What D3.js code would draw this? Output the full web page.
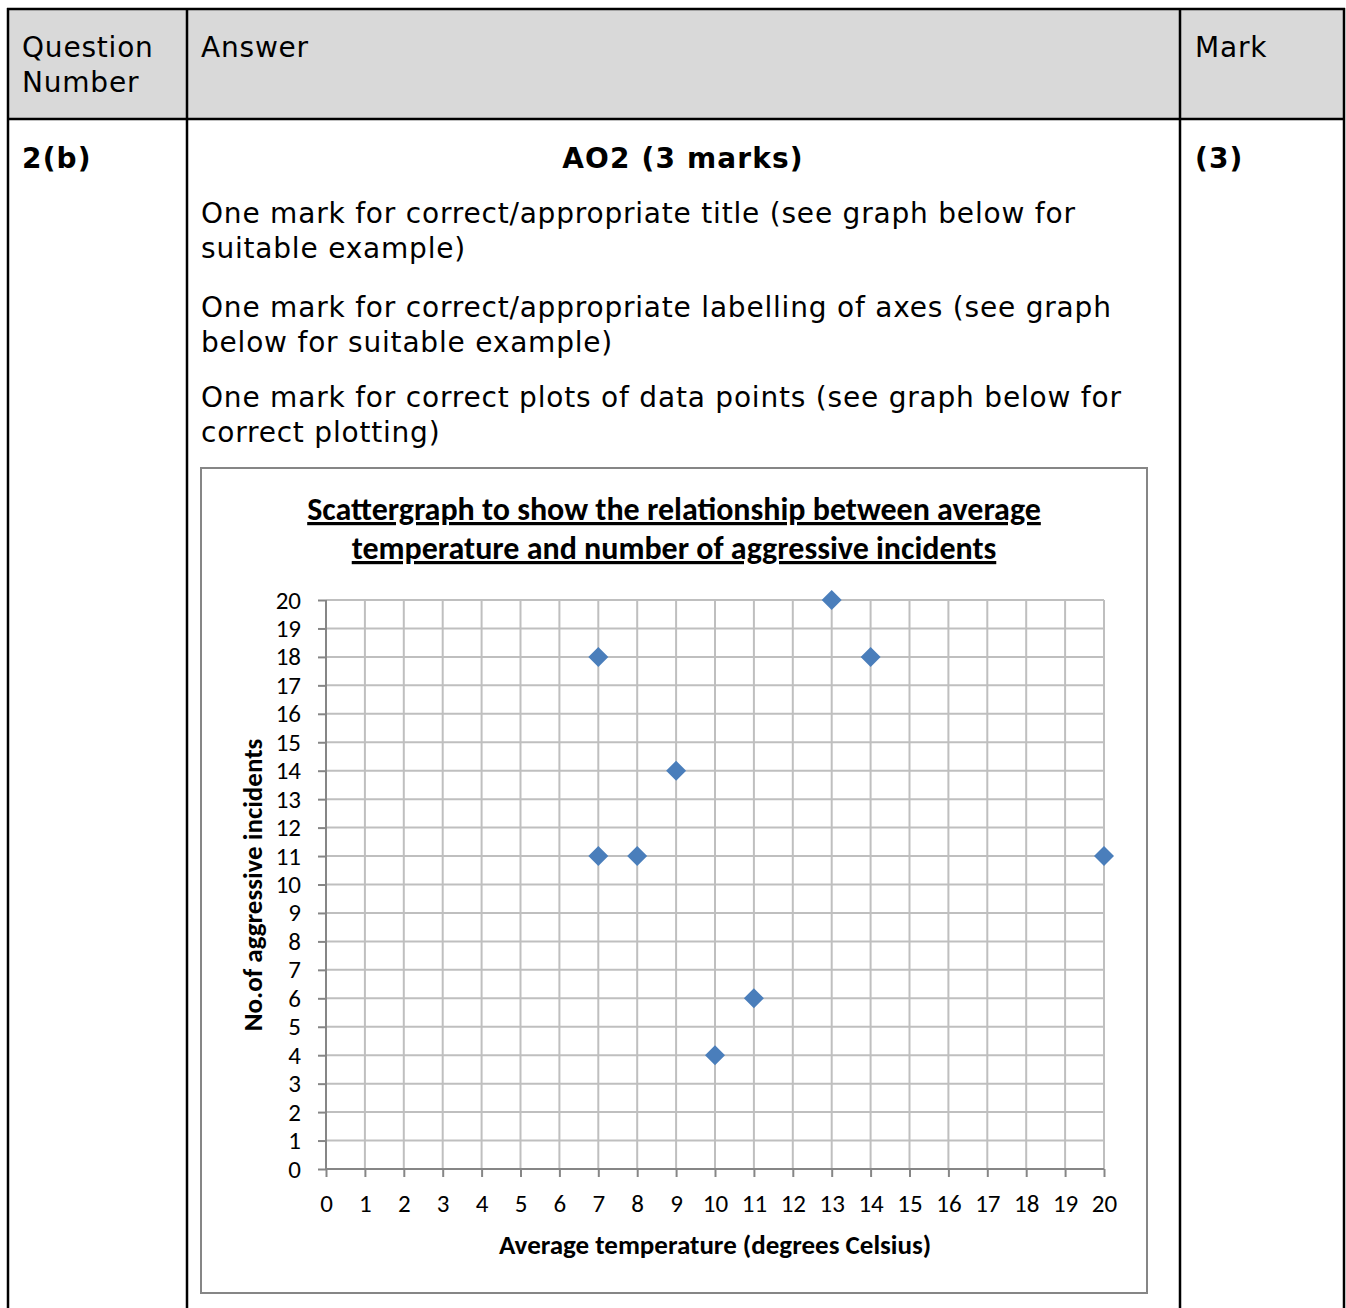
<!DOCTYPE html>
<html><head><meta charset="utf-8">
<script src="https://cdn.jsdelivr.net/npm/d3@7"></script>
<style>html,body{margin:0;padding:0;background:#fff;}svg{display:block;}</style>
</head><body>
<script>
const temps = [7, 13, 14, 9, 7, 8, 20, 11, 10];
const incidents = [18, 20, 18, 14, 11, 11, 11, 6, 4];
const xTicks = d3.range(0, 21);
const yTicks = d3.range(0, 21);
const chartTitle = ["Scattergraph to show the relationship between average", "temperature and number of aggressive incidents"];
const xLabel = "Average temperature (degrees Celsius)";
const yLabel = "No.of aggressive incidents";

const W = 1346, H = 1308;
const svg = d3.select("body").append("svg").attr("width", W).attr("height", H);

// table
const tf = "Verdana, 'DejaVu Sans', sans-serif";
svg.append("rect").attr("x", 8).attr("y", 9).attr("width", 1336).attr("height", 110).attr("fill", "#d9d9d9");
const bl = (x1,y1,x2,y2)=>svg.append("line").attr("x1",x1).attr("y1",y1).attr("x2",x2).attr("y2",y2).attr("stroke","#000").attr("stroke-width",2.5);
bl(7, 9, 1345, 9); bl(7, 119, 1345, 119);
bl(8, 8, 8, H); bl(1344, 8, 1344, H);
bl(187, 8, 187, H); bl(1180, 8, 1180, H);

const txt = (x, y, s, opts={}) => svg.append("text").attr("x", x).attr("y", y).text(s)
  .attr("font-family", tf).attr("font-size", 28).attr("font-weight", opts.bold ? "bold" : "normal")
  .attr("letter-spacing", opts.bold ? 1.15 : 0.8)
  .attr("text-anchor", opts.anchor || "start").attr("fill", "#000");
txt(22, 57, "Question"); txt(22, 92, "Number"); txt(201, 57, "Answer"); txt(1195, 57, "Mark");
txt(22, 168, "2(b)", {bold: true}); txt(1195, 168, "(3)", {bold: true});
txt(683, 168, "AO2 (3 marks)", {bold: true, anchor: "middle"});
const paras = [
  ["One mark for correct/appropriate title (see graph below for", "suitable example)"],
  ["One mark for correct/appropriate labelling of axes (see graph", "below for suitable example)"],
  ["One mark for correct plots of data points (see graph below for", "correct plotting)"]
];
const pY = [223, 317, 407];
paras.forEach((p, i) => p.forEach((l, j) => txt(201, pY[i] + j * 35, l)));

// chart box
svg.append("rect").attr("x", 201).attr("y", 468).attr("width", 946).attr("height", 825)
  .attr("fill", "#fff").attr("stroke", "#868686").attr("stroke-width", 2);

const cf = "Calibri, Carlito, Lato, sans-serif";
const x = d3.scaleLinear().domain([0, 20]).range([326, 1104]);
const y = d3.scaleLinear().domain([0, 20]).range([1169, 600]);

// title
chartTitle.forEach((t, i) => {
  svg.append("text").attr("x", 674).attr("y", 520 + i * 39).attr("text-anchor", "middle")
    .attr("font-family", cf).attr("font-weight", "bold").attr("font-size", 32)
    .attr("text-decoration", "underline").text(t);
});

// grid
const g = svg.append("g");
g.selectAll(".vg").data(xTicks.slice(1)).join("line")
  .attr("x1", d => x(d)).attr("x2", d => x(d)).attr("y1", y(0)).attr("y2", y(20))
  .attr("stroke", "#bfbfbf").attr("stroke-width", 2);
g.selectAll(".hg").data(yTicks.slice(1)).join("line")
  .attr("x1", x(0)).attr("x2", x(20)).attr("y1", d => y(d)).attr("y2", d => y(d))
  .attr("stroke", "#bfbfbf").attr("stroke-width", 2);

// axes
const xAxis = d3.axisBottom(x).tickValues(xTicks).tickSize(8).tickPadding(17).tickFormat(d3.format("d"));
const yAxis = d3.axisLeft(y).tickValues(yTicks).tickSize(8).tickPadding(17).tickFormat(d3.format("d"));
const gx = svg.append("g").attr("transform", `translate(0,${y(0)})`).call(xAxis);
const gy = svg.append("g").attr("transform", `translate(${x(0)},0)`).call(yAxis);
[gx, gy].forEach(a => {
  a.select(".domain").attr("stroke", "#868686").attr("stroke-width", 2);
  a.selectAll(".tick line").attr("stroke", "#868686").attr("stroke-width", 2);
  a.selectAll(".tick text").attr("font-family", cf).attr("font-size", 25).attr("fill", "#000");
});
gx.select(".domain").attr("d", `M${x(0)},0H${x(20)}`);
gy.select(".domain").attr("d", `M0,${y(0)}V${y(20)}`);

// axis labels
svg.append("text").attr("x", 715).attr("y", 1254).attr("text-anchor", "middle")
  .attr("font-family", cf).attr("font-weight", "bold").attr("font-size", 27).text(xLabel);
svg.append("text").attr("transform", "translate(262,885) rotate(-90)").attr("text-anchor", "middle")
  .attr("font-family", cf).attr("font-weight", "bold").attr("font-size", 27).text(yLabel);

// points
const sym = d3.symbol().type(d3.symbolSquare).size(200);
svg.selectAll(".pt").data(temps.map((t, i) => [t, incidents[i]])).join("path")
  .attr("d", sym).attr("transform", d => `translate(${x(d[0])},${y(d[1])}) rotate(45)`)
  .attr("fill", "#4a7ebb");
</script>
</body></html>
